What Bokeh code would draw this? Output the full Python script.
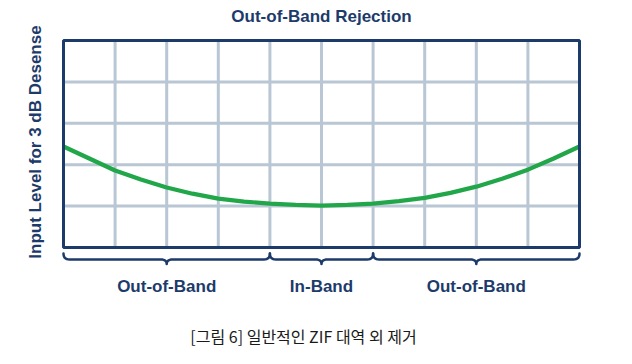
import numpy as np
from bokeh.plotting import figure
from bokeh.models import Range1d, BoxAnnotation
from bokeh.core.properties import value
from bokeh.embed import file_html
from bokeh.resources import INLINE

# ---- data ----
title_text = "Out-of-Band Rejection"
y_label = "Input Level for 3 dB Desense"
caption = "[그림 6] 일반적인 ZIF 대역 외 제거"
band_labels = ["Out-of-Band", "In-Band", "Out-of-Band"]
band_edges = [0, 4, 6, 10]
x_ticks = [0, 1, 2, 3, 4, 5, 6, 7, 8, 9, 10]
y_ticks = [0, 1, 2, 3, 4, 5]
curve_x = [0, 0.5, 1, 1.5, 2, 2.5, 3, 3.5, 4, 4.5, 5,
           5.5, 6, 6.5, 7, 7.5, 8, 8.5, 9, 9.5, 10]
curve_y = [2.44, 2.15, 1.86, 1.64, 1.45, 1.30, 1.18, 1.11, 1.06, 1.03, 1.01,
           1.03, 1.06, 1.12, 1.20, 1.32, 1.47, 1.66, 1.88, 2.15, 2.44]

NAVY = "#1d3b6a"
GRID = "#b9c6d4"
GREEN = "#21a74a"
FONT = value("Liberation Sans")

W, H = 632, 364
# plot frame in pixels: left 63, right 579, top 40, bottom 247
px_x = (579 - 63) / 10.0
px_y = (247 - 40) / 5.0
xr = Range1d(-63 / px_x, 10 + (W - 579) / px_x)
yr = Range1d(-(H - 247) / px_y, 5 + 40 / px_y)

p = figure(width=W, height=H, x_range=xr, y_range=yr,
           x_axis_type=None, y_axis_type=None,
           output_backend="svg", toolbar_location=None,
           min_border=0, outline_line_color=None)
p.background_fill_color = "white"
p.border_fill_color = "white"

x0, x1 = x_ticks[0], x_ticks[-1]
y0, y1 = y_ticks[0], y_ticks[-1]
p.segment(x0=x_ticks, y0=[y0] * len(x_ticks), x1=x_ticks, y1=[y1] * len(x_ticks),
          line_color=GRID, line_width=3)
p.segment(x0=[x0] * len(y_ticks), y0=y_ticks, x1=[x1] * len(y_ticks), y1=y_ticks,
          line_color=GRID, line_width=3)

p.line(curve_x, curve_y, line_color=GREEN, line_width=4.2)

p.add_layout(BoxAnnotation(left=x0, right=x1, bottom=y0, top=y1,
                           fill_alpha=0, line_color=NAVY, line_width=3, line_alpha=1))

# braces
ye = -6 / px_y
yl = -12 / px_y
yt = -16.5 / px_y
r = 6 / px_x

def quad(p0, c, p1, n=8):
    t = np.linspace(0, 1, n)
    xs = (1 - t) ** 2 * p0[0] + 2 * (1 - t) * t * c[0] + t ** 2 * p1[0]
    ys = (1 - t) ** 2 * p0[1] + 2 * (1 - t) * t * c[1] + t ** 2 * p1[1]
    return list(xs), list(ys)

bx, by = [], []
for a, b in zip(band_edges[:-1], band_edges[1:]):
    m = (a + b) / 2
    xs, ys = [], []
    for seg in [quad((a, ye), (a, yl), (a + r, yl)),
                quad((m - r, yl), (m, yl), (m, yt)),
                quad((m, yt), (m, yl), (m + r, yl)),
                quad((b - r, yl), (b, yl), (b, ye))]:
        xs += seg[0]
        ys += seg[1]
    bx.append(xs)
    by.append(ys)
p.multi_line(bx, by, line_color=NAVY, line_width=2.5, line_join="round", line_cap="round")

mids = [(a + b) / 2 for a, b in zip(band_edges[:-1], band_edges[1:])]
p.text(x=mids, y=[-39 / px_y] * 3, text=band_labels, text_font=FONT,
       text_font_style="bold", text_font_size="17px", text_color=NAVY,
       text_align="center", text_baseline="middle")

p.text(x=[5], y=[5 + 24 / px_y], text=[title_text], text_font=FONT,
       text_font_style="bold", text_font_size="17px", text_color=NAVY,
       text_align="center", text_baseline="middle")

p.text(x=[(35 - 63) / px_x], y=[(247 - 141.5) / px_y], text=[y_label], text_font=FONT,
       text_font_style="bold", text_font_size="17px", text_color=NAVY,
       text_align="center", text_baseline="middle", angle=np.pi / 2)

p.text(x=[(303 - 63) / px_x], y=[-(335 - 247) / px_y], text=[caption],
       text_font=value("Noto Sans CJK KR"), text_font_size="16px", text_color="#1a1a1a",
       text_align="center", text_baseline="middle")

open("out.html", "w").write(file_html(p, INLINE))
